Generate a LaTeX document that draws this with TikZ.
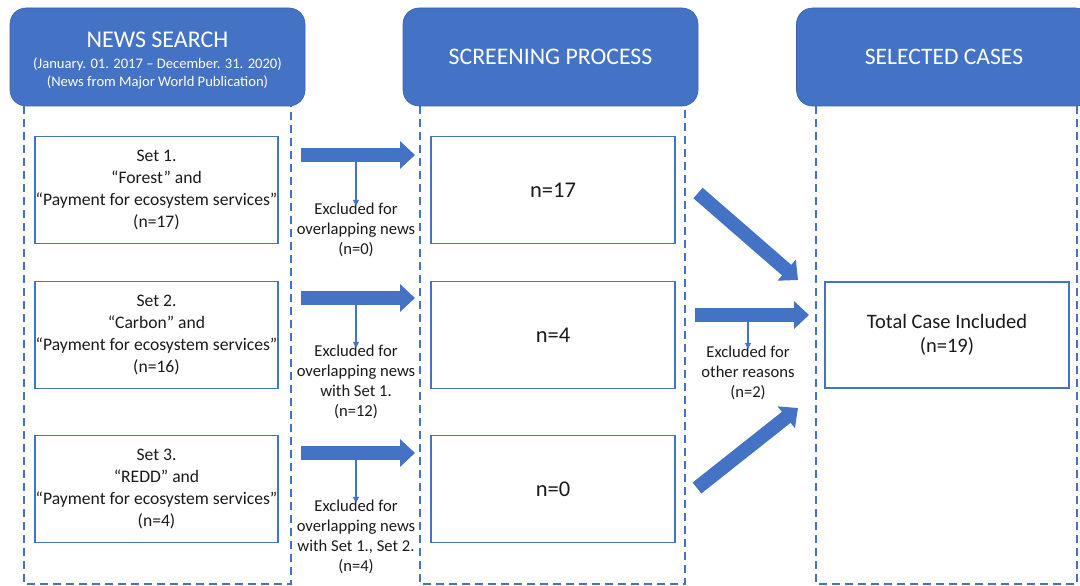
\documentclass[tikz,border=0pt]{standalone}
\usepackage{fontspec}
\setmainfont{Carlito}
\usetikzlibrary{arrows.meta,calc}
\definecolor{pblue}{HTML}{4472C4}
\definecolor{ink}{HTML}{1A1A1A}
\tikzset{
  header/.style={fill=pblue, draw=pblue!85!black, line width=0.6pt, rounded corners=16pt,
    minimum width=295pt, minimum height=98pt, text=white, align=center, inner sep=0pt},
  stage/.style={draw=pblue, line width=1.8pt, minimum width=243pt, minimum height=107pt,
    text=ink, align=center, inner sep=0pt},
  lane/.style={draw=pblue, line width=1.8pt, dash pattern=on 8pt off 5pt},
  bigarrow/.style={draw=pblue, line width=14pt, -{Triangle[length=15pt,width=27pt]}},
  thinarrow/.style={draw=pblue, line width=1.3pt, -{Triangle[length=6pt,width=6pt]}},
  note/.style={text=ink, align=center, inner sep=0pt, font=\fontsize{16.6}{20}\selectfont},
}
\begin{document}
\begin{tikzpicture}[x=1pt,y=-1pt]
\useasboundingbox (0,0) rectangle (1080,586);
\clip (0,0) rectangle (1080,586);

% column lanes
\draw[lane] (24,106) -- (24,584) -- (291,584) -- (291,106);
\draw[lane] (420,106) -- (420,584) -- (685,584) -- (685,106);
\draw[lane] (816,106) -- (816,584) -- (1077,584) -- (1077,106);

% column headers
\node[header, font=\fontsize{14.6}{18}\selectfont] (h1) at (157.5,57) {};
\node[text=white, align=center, inner sep=0pt, font=\fontsize{14.6}{18}\selectfont] (h1t) at (157.5,60)
  {{\fontsize{24}{18}\selectfont NEWS SEARCH}\\[3pt]
   (January. 01. 2017 -- December. 31. 2020)\\
   (News from Major World Publication)};
\node[header] (h2) at (550.5,57) {\fontsize{23.8}{26}\selectfont SCREENING PROCESS};
\node[header] (h3) at (944,57) {\fontsize{23.6}{26}\selectfont SELECTED CASES};

% search sets
\begin{scope}[every node/.append style={font=\fontsize{17.6}{21.8}\selectfont}]
\node[stage] (s1) at (156.5,190) {Set 1.\\“Forest” and\\“Payment for ecosystem services”\\(n=17)};
\node[stage] (s2) at (156.5,335) {Set 2.\\“Carbon” and\\“Payment for ecosystem services”\\(n=16)};
\node[stage] (s3) at (156.5,489) {Set 3.\\“REDD” and\\“Payment for ecosystem services”\\(n=4)};
\end{scope}

% screened counts
\begin{scope}[every node/.append style={font=\fontsize{22.5}{26}\selectfont}]
\node[stage, minimum width=244pt] (m1) at (553,190) {n=17};
\node[stage, minimum width=244pt] (m2) at (553,335) {n=4};
\node[stage, minimum width=244pt] (m3) at (553,489) {n=0};
\node[stage, minimum width=244pt, minimum height=106pt, font=\fontsize{20.5}{24}\selectfont] (t) at (947,335) {Total Case Included\\(n=19)};
\end{scope}

% exclusion notes
\node[note] (e1) at (356,230) {Excluded for\\overlapping news\\(n=0)};
\node[note] (e2) at (356,382) {Excluded for\\overlapping news\\with Set 1.\\(n=12)};
\node[note] (e3) at (356,537) {Excluded for\\overlapping news\\with Set 1., Set 2.\\(n=4)};
\node[note] (e4) at (748,373) {Excluded for\\other reasons\\(n=2)};

% arrow end points
\coordinate (a1s) at (301,155); \coordinate (a1e) at (415,155);
\coordinate (a2s) at (301,298); \coordinate (a2e) at (415,298);
\coordinate (a3s) at (301,453); \coordinate (a3e) at (415,453);
\coordinate (b1s) at (698,193); \coordinate (b1e) at (798,280);
\coordinate (b2s) at (695,315); \coordinate (b2e) at (809,315);
\coordinate (b3s) at (697,488); \coordinate (b3e) at (798,408);

% flow arrows
\draw[bigarrow] (a1s) -- (a1e);
\draw[bigarrow] (a2s) -- (a2e);
\draw[bigarrow] (a3s) -- (a3e);
\draw[bigarrow] (b1s) -- (b1e);
\draw[bigarrow] (b2s) -- (b2e);
\draw[bigarrow] (b3s) -- (b3e);

% exclusions branching off
\draw[thinarrow] (356,162) -- ([yshift=-3pt]e1.north);
\draw[thinarrow] (356,305) -- ([yshift=-3pt]e2.north);
\draw[thinarrow] (356,460) -- ([yshift=-3pt]e3.north);
\draw[thinarrow] (748,322) -- ([yshift=-3pt]e4.north);
\end{tikzpicture}
\end{document}
